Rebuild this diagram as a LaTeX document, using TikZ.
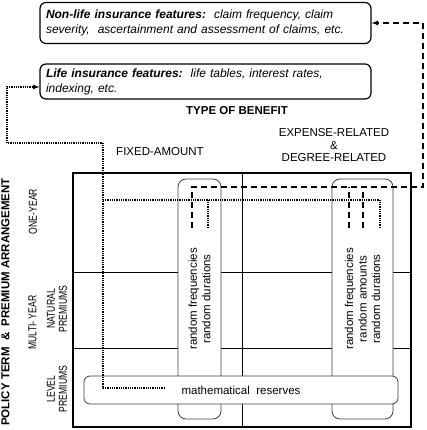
\documentclass[tikz,border=0pt]{standalone}
\usepackage{fontspec}
\setmainfont{Liberation Sans}
\newfontfamily\narrowsans[FakeStretch=0.75]{Liberation Sans}

\begin{document}
\begin{tikzpicture}[
  x=1pt, y=-1pt,
  >=latex,
  every node/.style={font=\fontsize{11.5}{12.5}\selectfont, inner sep=1pt},
  featbox/.style={draw, line width=1.2pt, rounded corners=6pt, minimum width=331pt,
    text width=319pt, inner xsep=6pt, align=left, font=\fontsize{12}{15}\selectfont\itshape},
  colbox/.style={draw=black!75, line width=0.8pt, rounded corners=8pt, fill=white,
    rotate=90, align=center, minimum width=240pt, font=\fontsize{11.5}{13.5}\selectfont},
  rowlabel/.style={rotate=90, align=center, font=\narrowsans\fontsize{11.5}{12}\selectfont},
  dashlink/.style={line width=1.2pt, dash pattern=on 6pt off 4pt},
  dotlink/.style={line width=1.2pt, dash pattern=on 0.9pt off 0.9pt},
  ]
  \useasboundingbox (0,0) rectangle (427,430);
  \node[featbox, minimum height=41pt](nonlife) at (205.5,23)
    {\textbf{Non-life insurance features:}\ \ claim frequency, claim\\
     severity,\ \ ascertainment and assessment of claims, etc.};
  \node[featbox, minimum height=35pt](life) at (205.5,81.5)
    {\textbf{Life insurance features:}\ \ life tables, interest rates,\\
     indexing, etc.};
  \node[font=\fontsize{11.5}{12.5}\selectfont\bfseries](benefit) at (237,111) {TYPE OF BENEFIT};
  \node(fixedhead) at (160,152) {FIXED-AMOUNT};
  \node[align=center](exphead) at (334,145.5) {EXPENSE-RELATED\\\&\\DEGREE-RELATED};
  \node[rotate=90, font=\fontsize{11.5}{12.5}\selectfont\bfseries](policy) at (5.5,302)
    {POLICY TERM\ \ \&\ \ PREMIUM ARRANGEMENT};
  \node[rowlabel](oneyear) at (33,211.5) {ONE-YEAR};
  \node[rowlabel](multiyear) at (32.5,322.5) {MULTI- YEAR};
  \node[rowlabel](natural) at (57,309) {NATURAL\\PREMIUMS};
  \node[rowlabel](level) at (57,389) {LEVEL\\PREMIUMS};
  \node[draw, line width=1.3pt, minimum width=338pt, minimum height=254pt, inner sep=0](grid)
    at (242,300) {};
  \draw[line width=0.7pt] (grid.north) -- (grid.south);
  \draw[line width=0.7pt] (grid.west |- 0,272) -- (grid.east |- 0,272);
  \draw[line width=0.7pt] (grid.west |- 0,348) -- (grid.east |- 0,348);
  \node[colbox, minimum height=43pt](fixedcol) at (199.5,299)
    {random frequencies\\random durations};
  \node[colbox, minimum height=61pt](expcol) at (362.5,299)
    {random frequencies\\random amounts\\random durations};
  \node[draw=black!75, line width=0.8pt, rounded corners=6pt, fill=white,
    minimum width=314pt, minimum height=28pt](reserves) at (241,390)
    {mathematical\ \ reserves};
  \coordinate (dfreq1) at (192,228);
  \coordinate (dfreq2) at (349,228);
  \coordinate (damt) at (363,228);
  \coordinate (dashtop) at (423,187);
  \coordinate (ddur1) at (208,228);
  \coordinate (ddur2) at (380,228);
  \coordinate (dotrow) at (103,200);
  \coordinate (dotbend) at (103,143);
  \coordinate (dotout) at (7,143);
  \coordinate (resin) at (165,388);
  \draw[dashlink,->] (dfreq1) |- (dashtop) |- (nonlife.east);
  \draw[dashlink] (dfreq2) -- (dfreq2 |- dashtop);
  \draw[dashlink] (damt) -- (damt |- dashtop);
  \draw[dotlink,->] (resin) -| (dotbend) -- (dotout) |- ([yshift=-5.5pt]life.west);
  \draw[dotlink] (dotrow) -| (ddur2);
  \draw[dotlink] (ddur1) -- (ddur1 |- dotrow);
\end{tikzpicture}
\end{document}
